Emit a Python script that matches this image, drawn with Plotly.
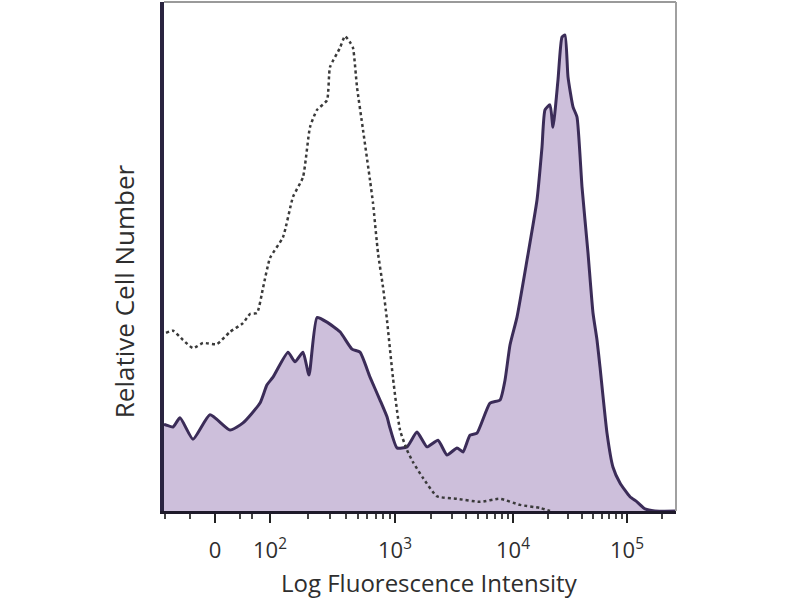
import plotly.graph_objects as go

# Display channel (biexponential scale, 0-1024) and relative cell counts (0-100)
stained_channel = [0, 4, 18, 32, 58, 92, 132, 158, 192, 206, 218, 248, 262, 278, 290, 306,
                   326, 352, 376, 392, 412, 432, 446, 452, 466, 486, 506, 526, 548, 566,
                   586, 598, 612, 626, 652, 672, 682, 692, 706, 726, 746, 756, 762, 772,
                   778, 788, 796, 802, 808, 818, 826, 836, 848, 858, 866, 872, 886, 898,
                   912, 932, 946, 962, 982, 1024]
stained_count = [17.0, 16.9, 16.5, 18.3, 14.1, 18.9, 15.9, 17.3, 21.2, 24.8, 26.3, 31.2,
                 29.3, 31.2, 26.7, 38.0, 37.1, 35.2, 31.8, 31.2, 26.3, 21.8, 18.5, 16.3,
                 12.4, 12.6, 15.5, 12.6, 13.9, 11.0, 12.4, 11.6, 14.9, 15.3, 21.2, 21.8,
                 25.7, 32.6, 38.1, 49.3, 61.1, 71.5, 78.8, 79.8, 75.4, 84.7, 93.1, 93.5,
                 85.3, 79.4, 77.4, 63.7, 50.7, 38.9, 33.6, 28.3, 15.3, 8.6, 5.5, 2.8,
                 1.8, 0.4, 0.0, 0.0]

isotype_channel = [4, 18, 38, 58, 78, 106, 132, 158, 172, 186, 198, 212, 238, 258, 278,
                   292, 306, 326, 332, 352, 362, 372, 378, 386, 398, 412, 418, 428, 438,
                   446, 458, 472, 486, 498, 518, 546, 586, 632, 672, 712, 752, 772]
isotype_count = [35.0, 35.4, 33.6, 32.0, 33.0, 32.8, 35.2, 36.9, 38.7, 38.9, 43.8, 49.7,
                 53.8, 61.7, 65.6, 75.4, 78.8, 80.7, 87.2, 91.0, 93.3, 92.1, 91.0, 83.3,
                 74.9, 65.0, 60.5, 50.7, 44.0, 37.5, 26.1, 15.9, 12.0, 9.6, 6.5, 2.9,
                 2.4, 1.8, 2.4, 1.2, 0.6, 0.0]

# Axis ticks (display channel of each decade label)
tick_channel = [102, 212, 462, 698, 926]
tick_text = ["0", "10<sup>2</sup>", "10<sup>3</sup>", "10<sup>4</sup>", "10<sup>5</sup>"]
minor_channel = [2, 52, 152, 175, 287, 331, 363, 387, 406, 423, 438, 451,
                 533, 575, 604, 627, 645, 661, 675, 687,
                 767, 807, 835, 857, 875, 890, 903, 915, 995]

fig = go.Figure()
fig.add_trace(go.Scatter(
    x=stained_channel, y=stained_count, mode="lines",
    fill="tozeroy", fillcolor="#cdbfdb",
    line=dict(color="#3b2c58", width=3, shape="spline", smoothing=0.5),
    hoverinfo="skip"))
fig.add_trace(go.Scatter(
    x=isotype_channel, y=isotype_count, mode="lines",
    line=dict(color="#3a3a3a", width=2.5, dash="dot", shape="spline", smoothing=0.5),
    hoverinfo="skip"))

fig.update_layout(
    width=800, height=600,
    margin=dict(l=164, r=124, t=2, b=89),
    paper_bgcolor="white", plot_bgcolor="white",
    showlegend=False,
    font=dict(family="Open Sans, Lato, sans-serif", color="#2e2e2e"),
    xaxis=dict(
        range=[0, 1024], showgrid=False, zeroline=False,
        showline=True, linecolor="#1e1a2a", linewidth=3,
        tickmode="array", tickvals=tick_channel, ticktext=tick_text,
        ticks="outside", ticklen=9, tickwidth=2, tickcolor="#222222",
        ticklabelstandoff=9,
        tickfont=dict(size=22, color="#2e2e2e"),
        minor=dict(tickmode="array", tickvals=minor_channel, ticks="outside",
                   ticklen=5, tickwidth=1.5, tickcolor="#444444"),
    ),
    yaxis=dict(
        range=[0, 100], showgrid=False, zeroline=False,
        showline=True, linecolor="#2a2440", linewidth=4,
        showticklabels=False, ticks="",
    ),
    shapes=[
        dict(type="line", xref="paper", yref="paper", x0=0, x1=1, y0=1, y1=1,
             line=dict(color="#9a9a9a", width=2)),
        dict(type="line", xref="paper", yref="paper", x0=1, x1=1, y0=0, y1=1,
             line=dict(color="#a0a0a0", width=2)),
    ],
    annotations=[
        dict(text="Log Fluorescence Intensity", xref="paper", yref="paper",
             x=0.518, y=-0.14, xanchor="center", yanchor="middle",
             showarrow=False, font=dict(size=24, color="#2e2e2e")),
        dict(text="Relative Cell Number", xref="paper", yref="paper",
             x=-0.078, y=0.432, xanchor="center", yanchor="middle",
             textangle=-90, showarrow=False, font=dict(size=26, color="#2e2e2e")),
    ],
)

fig.write_html("out.html", config={"displayModeBar": False},
               post_script="document.body.style.margin='0px';")
